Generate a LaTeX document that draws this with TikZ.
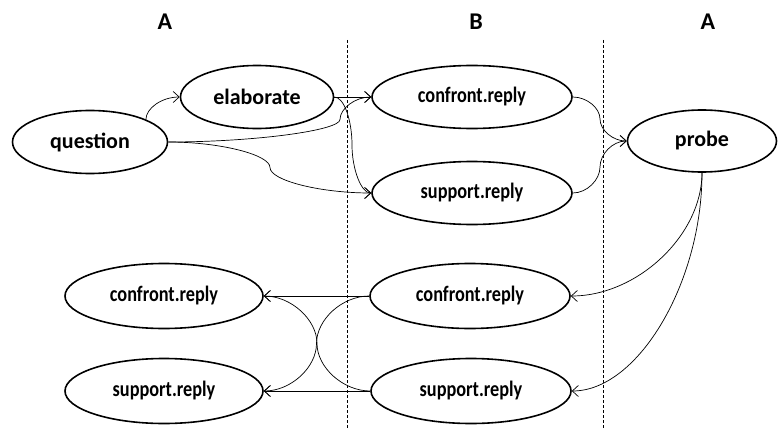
\documentclass[tikz,border=0pt]{standalone}
\usepackage{fontspec}
\setmainfont{Carlito}
\newfontfamily\narrowfont[FakeStretch=0.83]{Carlito}
\usetikzlibrary{arrows.meta,shapes.geometric}

\begin{document}
\begin{tikzpicture}[
    x=1pt, y=-1pt,
    state/.style={ellipse, draw, line width=1.6pt, inner sep=0,
        minimum width=155pt, minimum height=63pt, font=\fontsize{22}{24}\selectfont\bfseries},
    reply/.style={state, minimum width=200pt, font=\narrowfont\fontsize{22}{24}\selectfont\bfseries},
    side/.style={font=\fontsize{24}{26}\selectfont\bfseries},
    turn/.style={draw, dash pattern=on 3pt off 2pt, line width=0.7pt},
    link/.style={draw, line width=0.7pt, -{Straight Barb[length=6pt,width=11pt]}}]
\useasboundingbox (0,0) rectangle (778,428);

\node[side] (speakerA) at (165,22) {A};
\node[side] (speakerB) at (476,22) {B};
\node[side] (speakerC) at (708,22) {A};

\coordinate (sepAtop) at (347,40);
\coordinate (sepAbot) at (347,428);
\coordinate (sepBtop) at (603,40);
\coordinate (sepBbot) at (603,428);
\path[turn] (sepAtop) -- (sepAbot);
\path[turn] (sepBtop) -- (sepBbot);

\node[state] (question)  at (90,142)  {question};
\node[state, minimum width=153pt] (elaborate) at (257,97) {elaborate};
\node[reply] (confront1) at (472,97)  {confront.reply};
\node[reply] (support1)  at (472,193) {support.reply};
\node[state, minimum width=149pt, minimum height=62pt] (probe) at (702,141) {probe};
\node[reply, minimum height=65pt] (confront2) at (470,296) {confront.reply};
\node[reply, minimum height=65pt] (support2)  at (471,391) {support.reply};
\node[reply, minimum width=198pt, minimum height=65pt] (confront3) at (164,296) {confront.reply};
\node[reply, minimum width=198pt, minimum height=65pt] (support3)  at (164,391) {support.reply};

\coordinate (qcMid) at (340,119.5);
\coordinate (qsMid) at (270,167.5);
\coordinate (esMid) at (352,145);
\coordinate (cpMid) at (600,119);
\coordinate (spMid) at (600,167);
\coordinate (csMid) at (316.5,343.5);
\coordinate (scMid) at (317,343.5);

\path[link] (question.22) .. controls +(0,-11) and +(-18,0) .. (elaborate.west);
\path[link] (question.east) .. controls +(86,0) and +(0,11) .. (qcMid)
    .. controls +(0,-11) and +(-16,0) .. (confront1.west);
\path[link] (question.east) .. controls +(51,0) and +(0,-13) .. (qsMid)
    .. controls +(0,13) and +(-51,0) .. (support1.west);
\path[link] (elaborate.east) -- (confront1.west);
\path[link] (elaborate.east) .. controls +(10,0) and +(0,-24) .. (esMid)
    .. controls +(0,24) and +(-10,0) .. (support1.west);
\path[link] (confront1.east) .. controls +(14,0) and +(0,-11) .. (cpMid)
    .. controls +(0,11) and +(-14,0) .. (probe.west);
\path[link] (support1.east) .. controls +(14,0) and +(0,13) .. (spMid)
    .. controls +(0,-13) and +(-14,0) .. (probe.west);

\path[link] (probe.south) .. controls +(0,62) and +(67,0) .. (confront2.east);
\path[link] (probe.south) .. controls +(0,110) and +(66,0) .. (support2.east);

\path[link] (confront2.west) -- (confront3.east);
\path[link] (confront2.west) .. controls +(-27,0) and +(0,-24) .. (csMid)
    .. controls +(0,24) and +(27,0) .. (support3.east);
\path[link] (support2.west) -- (support3.east);
\path[link] (support2.west) .. controls +(-27,0) and +(0,24) .. (scMid)
    .. controls +(0,-24) and +(27,0) .. (confront3.east);

\end{tikzpicture}
\end{document}
